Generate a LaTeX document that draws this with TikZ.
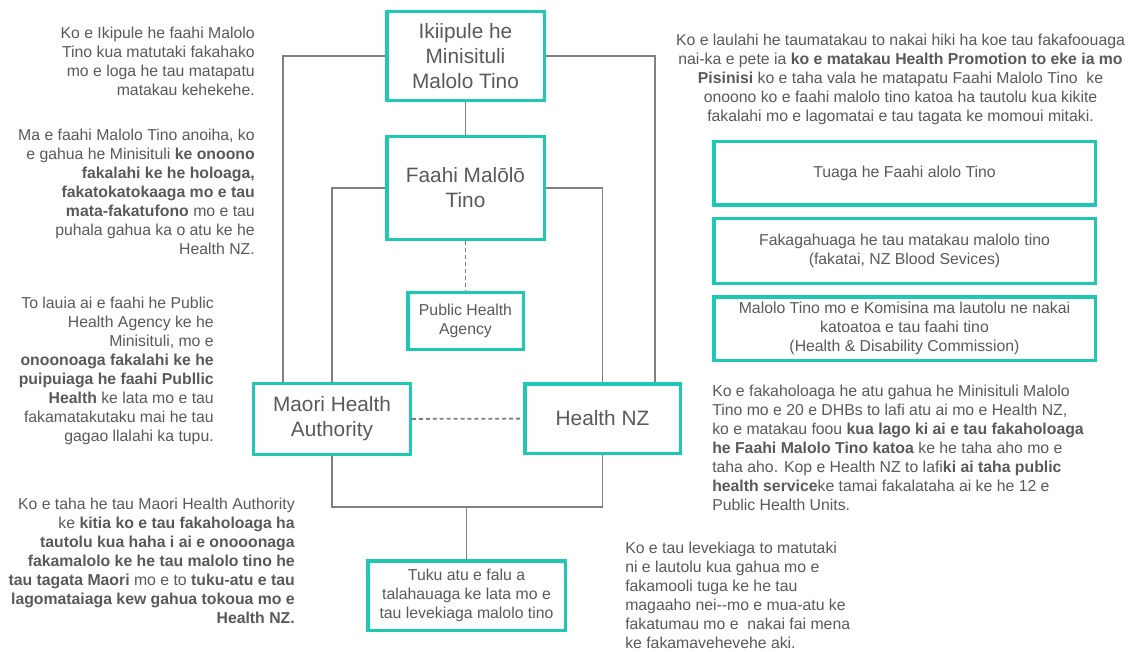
\documentclass[tikz,border=0pt]{standalone}
\usepackage{fontspec}
\setmainfont{Liberation Sans}
\definecolor{boxteal}{RGB}{30,200,178}
\definecolor{linegray}{RGB}{128,128,128}
\definecolor{txtgray}{RGB}{89,89,89}
\begin{document}
\begin{tikzpicture}[x=0.75pt,y=-0.75pt,
    orgbox/.style={draw=boxteal, line width=2.6pt, text=txtgray, align=center, inner sep=2pt},
    bigtext/.style={font=\fontsize{15.6}{18.75}\selectfont},
    smalltext/.style={font=\fontsize{11.85}{14.25}\selectfont},
    note/.style={text=txtgray, inner sep=0pt, font=\fontsize{11.85}{14.25}\selectfont},
    link/.style={draw=linegray, line width=1.4pt},
    weak/.style={link, dash pattern=on 3pt off 2.2pt}]
    \useasboundingbox (0,0) rectangle (1131,652);

    % boxes in the middle
    \node[orgbox, bigtext, minimum width=118.1pt, minimum height=66.4pt] (ikiipule) at (465.5,56) {Ikiipule he\\ Minisituli\\ Malolo Tino};
    \node[orgbox, bigtext, minimum width=118.1pt, minimum height=76.9pt] (faahi) at (465.5,188) {Faahi Malōlō\\ Tino};
    \node[orgbox, smalltext, minimum width=86.6pt, minimum height=42.4pt] (pha) at (465.5,321) {Public Health\\ Agency};
    \node[orgbox, bigtext, minimum width=117.4pt, minimum height=52.9pt] (maori) at (332,419) {Maori Health\\ Authority};
    \node[orgbox, bigtext, minimum width=116.6pt, minimum height=52.1pt] (hnz) at (602.5,418.5) {Health NZ};
    \node[orgbox, smalltext, minimum width=148.1pt, minimum height=52.1pt] (tuku) at (466.5,595.5) {Tuku atu e falu a\\ talahauaga ke lata mo e\\ tau levekiaga malolo tino};

    % boxes on the right
    \node[orgbox, smalltext, minimum width=286.1pt, minimum height=47.6pt] (tuaga) at (904.5,173.5) {Tuaga he Faahi alolo Tino};
    \node[orgbox, smalltext, minimum width=286.1pt, minimum height=48.4pt] (fakag) at (904.5,251) {Fakagahuaga he tau matakau malolo tino\\ (fakatai, NZ Blood Sevices)};
    \node[orgbox, smalltext, minimum width=286.1pt, minimum height=47.6pt] (komisina) at (904.5,328.5) {Malolo Tino mo e Komisina ma lautolu ne nakai\\ katoatoa e tau faahi tino\\ (Health \& Disability Commission)};

    % lines
    \draw[link] (ikiipule) -- (faahi);
    \draw[link] (ikiipule.west) -| ([xshift=23pt]maori.north west);
    \draw[link] (ikiipule.east) -| ([xshift=-20pt]hnz.north east);
    \draw[link] (faahi.west) -| (maori.north);
    \draw[link] (faahi.east) -| (hnz.north);
    \draw[weak] (faahi) -- (pha);
    \draw[weak] (maori) -- (hnz);
    \coordinate (split) at (466.5,507);
    \draw[link] (maori.south) |- (split) -| (hnz.south);
    \draw[link] (split) -- (tuku.north);

    % notes
    \node[note, anchor=east, align=right] (ikiinote) at (255,61.5) {Ko e Ikipule he faahi Malolo\\ Tino kua matutaki fakahako\\ mo e loga he tau matapatu\\ matakau kehekehe.};
    \node[note, anchor=east, align=right] (faahinote) at (255,191.5) {Ma e faahi Malolo Tino anoiha, ko\\ e gahua he Minisituli \textbf{ke onoono}\\ \textbf{fakalahi ke he holoaga,}\\ \textbf{fakatokatokaaga mo e tau}\\ \textbf{mata-fakatufono} mo e tau\\ puhala gahua ka o atu ke he\\ Health NZ.};
    \node[note, anchor=east, align=right] (phanote) at (214,370.5) {To lauia ai e faahi he Public\\ Health Agency ke he\\ Minisituli, mo e\\ \textbf{onoonoaga fakalahi ke he}\\ \textbf{puipuiaga he faahi Publlic}\\ \textbf{Health} ke lata mo e tau\\ fakamatakutaku mai he tau\\ gagao llalahi ka tupu.};
    \node[note, anchor=east, align=right] (maorinote) at (295,560.5) {Ko e taha he tau Maori Health Authority\\ ke \textbf{kitia ko e tau fakaholoaga ha}\\ \textbf{tautolu kua haha i ai e onooonaga}\\ \textbf{fakamalolo ke he tau malolo tino he}\\ \textbf{tau tagata Maori} mo e to \textbf{tuku-atu e tau}\\ \textbf{lagomataiaga kew gahua tokoua mo e}\\ \textbf{Health NZ.}};
    \node[note, align=center] (toponote) at (900.5,79.5) {Ko e laulahi he taumatakau to nakai hiki ha koe tau fakafoouaga\\ nai-ka e pete ia \textbf{ko e matakau Health Promotion to eke ia mo}\\ \textbf{Pisinisi} ko e taha vala he matapatu Faahi Malolo Tino\ \ ke\\ onoono ko e faahi malolo tino katoa ha tautolu kua kikite\\ fakalahi mo e lagomatai e tau tagata ke momoui mitaki.};
    \node[note, anchor=west, align=left] (hnznote) at (712,448) {Ko e fakaholoaga he atu gahua he Minisituli Malolo\\ Tino mo e 20 e DHBs to lafi atu ai mo e Health NZ,\\ ko e matakau foou \textbf{kua lago ki ai e tau fakaholoaga}\\ \textbf{he Faahi Malolo Tino katoa} ke he taha aho mo e\\ taha aho. Kop e Health NZ to lafi\textbf{ki ai taha public}\\ \textbf{health service}ke tamai fakalataha ai ke he 12 e\\ Public Health Units.};
    \node[note, anchor=west, align=left] (tukunote) at (625,595.5) {Ko e tau levekiaga to matutaki\\ ni e lautolu kua gahua mo e\\ fakamooli tuga ke he tau\\ magaaho nei-{}-mo e mua-atu ke\\ fakatumau mo e\ \ nakai fai mena\\ ke fakamavehevehe aki.};
\end{tikzpicture}
\end{document}
